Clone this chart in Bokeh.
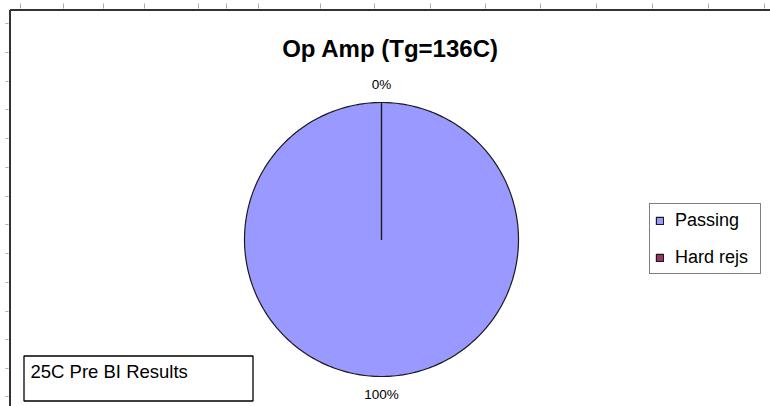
import math
from bokeh.plotting import figure
from bokeh.models import Range1d, ColumnDataSource, Legend, LegendItem
from bokeh.core.properties import value
from bokeh.embed import file_html
from bokeh.resources import INLINE

# ---- data ----
categories = ["Passing", "Hard rejs"]
values = [100, 0]
colors = ["#9999FF", "#993366"]
title_text = "Op Amp (Tg=136C)"
note_text = "25C Pre BI Results"

W, H = 770, 406
FONT = "Liberation Sans"

# data units == screen pixels; x = screen x, y = H - screen y
def sy(y):
    return H - y

p = figure(width=W, height=H, output_backend="svg", toolbar_location=None,
           x_range=Range1d(0, W), y_range=Range1d(0, H),
           min_border=0, outline_line_color=None)
p.axis.visible = False
p.grid.visible = False
p.background_fill_color = "white"
p.border_fill_color = "white"

# faint spreadsheet cell stubs outside the chart area
col_stubs = [20, 63, 103, 144, 198, 226, 258, 320, 374, 430, 485, 540, 596, 652, 708, 764]
row_stubs = [23, 52, 81, 109, 138, 167, 196, 224, 253, 282, 311, 339, 368, 396]
p.segment(x0=col_stubs, x1=col_stubs, y0=[sy(3)] * len(col_stubs), y1=[sy(8)] * len(col_stubs),
          line_color="#aaaaaa", line_width=1)
p.segment(x0=[5] * len(row_stubs), x1=[8] * len(row_stubs),
          y0=[sy(v) for v in row_stubs], y1=[sy(v) for v in row_stubs],
          line_color="#aaaaaa", line_width=1)

# chart area border (left & top visible, rest off-page)
p.segment(x0=[9.5, 9.5], x1=[9.5, W], y0=[sy(9.5), sy(9.5)], y1=[0, sy(9.5)],
          line_color="#333333", line_width=2)

# pie: slices as polygons built from the values (clockwise from 12 o'clock)
cx, cy, r = 381, sy(239), 137
total = sum(values)
xs, ys, mids = [], [], []
acc = 0.0
for v in values:
    a0 = math.pi / 2 - 2 * math.pi * acc / total
    acc += v
    a1 = math.pi / 2 - 2 * math.pi * acc / total
    n = max(2, int(abs(a1 - a0) / (2 * math.pi) * 360) + 1)
    angs = [a0 + (a1 - a0) * k / (n - 1) for k in range(n)]
    xs.append([cx] + [cx + r * math.cos(a) for a in angs])
    ys.append([cy] + [cy + r * math.sin(a) for a in angs])
    mids.append((a0 + a1) / 2)

src = ColumnDataSource(dict(xs=xs, ys=ys, cat=categories, color=colors, val=values))
pie = p.patches(xs="xs", ys="ys", fill_color="color", line_color="#1a1a1a",
                line_width=1.2, line_join="round", source=src)

# percentage labels
lr = 155
lab_x = [cx + lr * math.cos(m) for m in mids]
lab_y = [cy + lr * math.sin(m) for m in mids]
lab_t = ["%d%%" % round(100 * v / total) for v in values]
p.text(x=lab_x, y=lab_y, text=lab_t, text_align="center", text_baseline="middle",
       text_font=value(FONT), text_font_size="13.5px", text_color="black")

# title
p.text(x=[390], y=[sy(48)], text=[title_text], text_align="center", text_baseline="middle",
       text_font=value(FONT), text_font_style="bold", text_font_size="24px",
       text_color="black")

# note box
p.quad(left=23.5, right=252.5, top=sy(355.5), bottom=sy(400.5), fill_color="white",
       line_color="black", line_width=1.3)
p.text(x=[30], y=[sy(371)], text=[note_text], text_align="left", text_baseline="middle",
       text_font=value(FONT), text_font_size="18.5px", text_color="black")

# legend
items = [LegendItem(label=c, renderers=[pie], index=i) for i, c in enumerate(categories)]
legend = Legend(items=items, location=(649, H - 274),
                border_line_color="black", border_line_width=1.3,
                background_fill_color="white", background_fill_alpha=1,
                label_text_font=FONT, label_text_font_size="18px", label_text_color="black",
                glyph_width=9, glyph_height=9, spacing=15, padding=5, margin=0,
                label_standoff=11, label_height=22, label_width=80)
p.add_layout(legend, "center")

open("out.html", "w").write(file_html(p, INLINE))
